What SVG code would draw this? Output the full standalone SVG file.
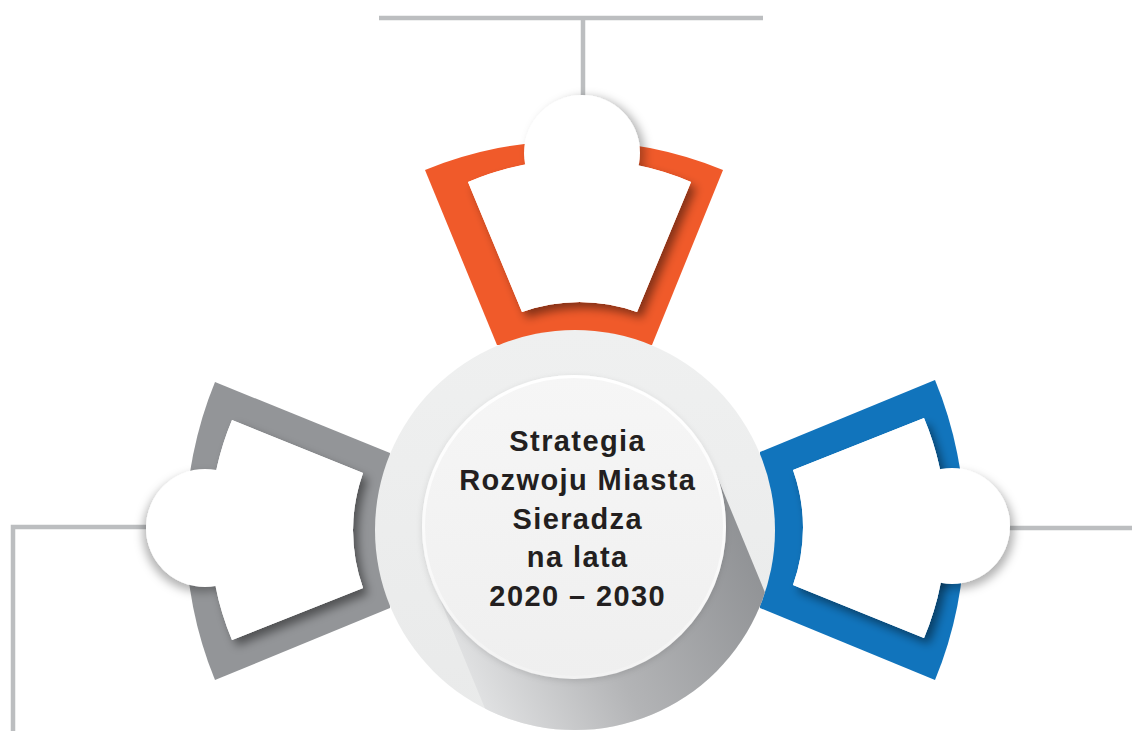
<svg xmlns="http://www.w3.org/2000/svg" width="1132" height="731" viewBox="0 0 1132 731">
<defs>
<style>
.conn{stroke:#bcbec0;stroke-width:4.5;fill:none}
.hole{fill:#ffffff}
.shadowed{filter:url(#holeShadow)}
.knob{fill:#ffffff}
.label{font-family:"Liberation Sans",Arial,sans-serif;font-weight:bold;font-size:29px;letter-spacing:1.4px;fill:#231f20;text-anchor:middle}
</style>
<filter id="holeShadow" x="-20%" y="-20%" width="140%" height="140%">
<feDropShadow dx="5" dy="6" stdDeviation="5" flood-color="#000" flood-opacity="0.45"/>
</filter>
<filter id="knobShadowT" x="-30%" y="-30%" width="160%" height="160%">
<feDropShadow dx="5" dy="2" stdDeviation="5" flood-color="#000" flood-opacity="0.3"/>
</filter>
<filter id="knobShadowL" x="-30%" y="-30%" width="160%" height="160%">
<feDropShadow dx="-3" dy="5" stdDeviation="5" flood-color="#000" flood-opacity="0.3"/>
</filter>
<filter id="knobShadowR" x="-30%" y="-30%" width="160%" height="160%">
<feDropShadow dx="4" dy="5" stdDeviation="5" flood-color="#000" flood-opacity="0.3"/>
</filter>
<filter id="discShadow" x="-20%" y="-20%" width="140%" height="140%">
<feDropShadow dx="0" dy="2" stdDeviation="3" flood-color="#000" flood-opacity="0.12"/>
</filter>
<path id="holeT" class="hole" d="M468,182 A285.7,285.7 0 0 1 691,182 L637,312 A170,170 0 0 0 522,312 Z"/>
<path id="holeL" class="hole" d="M232,640 A285.7,285.7 0 0 1 232,420 L363,473 A170,170 0 0 0 363,588 Z"/>
<path id="holeR" class="hole" d="M924,418 A285.7,285.7 0 0 1 924,638 L793,585 A170,170 0 0 0 793,470 Z"/>
<clipPath id="outerClip"><circle cx="575" cy="530" r="200"/></clipPath>
<linearGradient id="outerGrad" x1="0" y1="0" x2="0" y2="1">
<stop offset="0" stop-color="#eff0f0"/>
<stop offset="1" stop-color="#e9eaea"/>
</linearGradient>
<linearGradient id="longShadow" gradientUnits="userSpaceOnUse" x1="765" y1="560" x2="470" y2="700">
<stop offset="0" stop-color="#8f9194"/>
<stop offset="0.55" stop-color="#b3b4b6"/>
<stop offset="1" stop-color="#e3e4e5"/>
</linearGradient>
<linearGradient id="innerGrad" x1="0" y1="0" x2="0" y2="1">
<stop offset="0" stop-color="#f6f6f6"/>
<stop offset="1" stop-color="#efefef"/>
</linearGradient>
<linearGradient id="rimGrad" x1="0" y1="0" x2="0" y2="1">
<stop offset="0" stop-color="#ffffff" stop-opacity="1"/>
<stop offset="0.6" stop-color="#ffffff" stop-opacity="0.6"/>
<stop offset="1" stop-color="#ffffff" stop-opacity="0.2"/>
</linearGradient>
</defs>

<g id="connectors">
<path class="conn" d="M379,18 H763 M583,18 V97"/>
<path class="conn" d="M146,527 H13 V731"/>
<path class="conn" d="M1008,528 H1132"/>
</g>

<g id="node-top">
<path fill="#f05a2a" d="M425,170 A393,393 0 0 1 723,170 L652,345 L497,345 Z"/>
<use href="#holeT" class="shadowed"/>
<circle class="knob" cx="582" cy="153" r="58" filter="url(#knobShadowT)"/>
<use href="#holeT"/>
</g>

<g id="node-left">
<path fill="#939598" d="M215,680 A393,393 0 0 1 215,382 L390,453 L390,608 Z"/>
<use href="#holeL" class="shadowed"/>
<circle class="knob" cx="205" cy="528" r="59" filter="url(#knobShadowL)"/>
<use href="#holeL"/>
</g>

<g id="node-right">
<path fill="#1174bc" d="M935,380 A393,393 0 0 1 935,680 L760,608 L760,452 Z"/>
<use href="#holeR" class="shadowed"/>
<circle class="knob" cx="952" cy="526" r="58" filter="url(#knobShadowR)"/>
<use href="#holeR"/>
</g>

<g id="node-center">
<circle cx="575" cy="530" r="200" fill="url(#outerGrad)"/>
<g clip-path="url(#outerClip)">
<polygon points="714,469 866,837 586,953 434,585" fill="url(#longShadow)"/>
</g>
<circle cx="574" cy="527" r="152" fill="url(#innerGrad)" filter="url(#discShadow)"/>
<circle cx="574" cy="527" r="150.5" fill="none" stroke="url(#rimGrad)" stroke-width="3"/>
<text class="label" x="577.7" y="451">Strategia</text>
<text class="label" x="577.7" y="490">Rozwoju Miasta</text>
<text class="label" x="577.7" y="529">Sieradza</text>
<text class="label" x="577.7" y="567">na lata</text>
<text class="label" x="577.7" y="606">2020 – 2030</text>
</g>
</svg>
